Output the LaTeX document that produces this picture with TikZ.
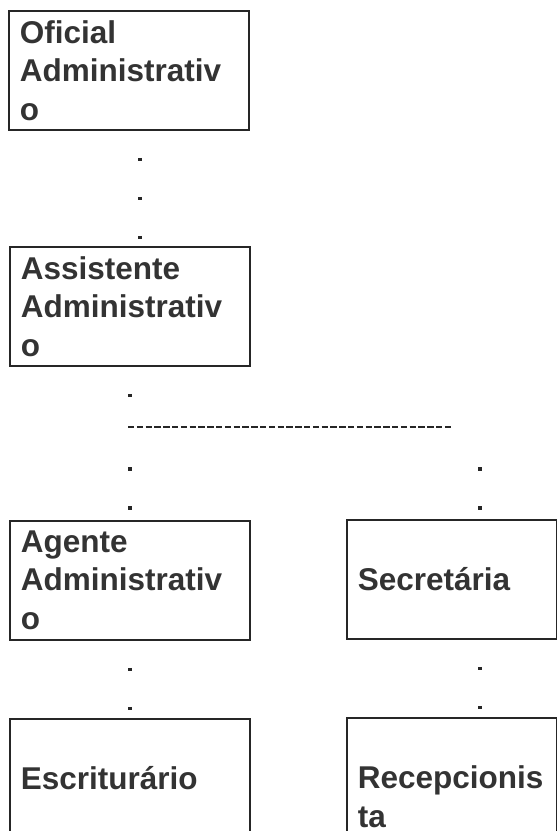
\documentclass[tikz,border=0pt]{standalone}
\usepackage{fontspec}
\setmainfont{Liberation Sans}
\usetikzlibrary{positioning}

\tikzset{
  cargo/.style={draw=black!85, line width=1.6pt, anchor=north west,
    minimum width=240pt, minimum height=119pt, inner xsep=11pt,
    text width=218pt, align=left, text=black!80,
    font=\fontsize{31.5}{38.5}\selectfont\bfseries},
  cargoR/.style={cargo, minimum width=210pt, text width=188pt},
  pontos/.style={draw=black!85, line width=3.6pt,
    dash pattern=on 3.6pt off 35.4pt, dash phase=11.8pt},
  tracos/.style={draw=black!85, line width=2.8pt,
    dash pattern=on 6.4pt off 2.4pt},
}

\begin{document}
\begin{tikzpicture}[x=1pt, y=-1pt]
  \useasboundingbox (0,0) rectangle (557,831);
  \clip (0,0) rectangle (557,831);

  % Cargos
  \node[cargo] (oficial) at (8,10) {Oficial\\Administrativ\\o};
  \node[cargo] (assist) at (9,246) {Assistente\\Administrativ\\o};
  \node[cargo] (agente) at (9,520) {Agente\\Administrativ\\o};
  \node[cargo] (escrit) at (9,718) {Escriturário};
  \node[cargoR] (secret) at (346,519) {Secretária};
  \node[cargoR, minimum height=158pt] (recep) at (346,717) {Recepcionis\\ta};

  % Ramificacao
  \coordinate (ramo) at (130,427);
  \coordinate (ramoFim) at (452,427);
  \coordinate (ramoDir) at (480,427);

  % Ligacoes
  \draw[pontos] ([xshift=11pt]oficial.south) -- ([xshift=11pt]oficial.south |- assist.north);
  \draw[pontos] (ramo |- assist.south) -- (ramo);
  \draw[tracos] ([xshift=-2pt]ramo) -- (ramoFim);
  \draw[pontos, shorten <=13pt] (ramo) -- (ramo |- agente.north);
  \draw[pontos, shorten <=13pt] (ramoDir) -- (ramoDir |- secret.north);
  \draw[pontos] (ramo |- agente.south) -- (ramo |- escrit.north);
  \draw[pontos] (ramoDir |- secret.south) -- (ramoDir |- recep.north);
\end{tikzpicture}
\end{document}
